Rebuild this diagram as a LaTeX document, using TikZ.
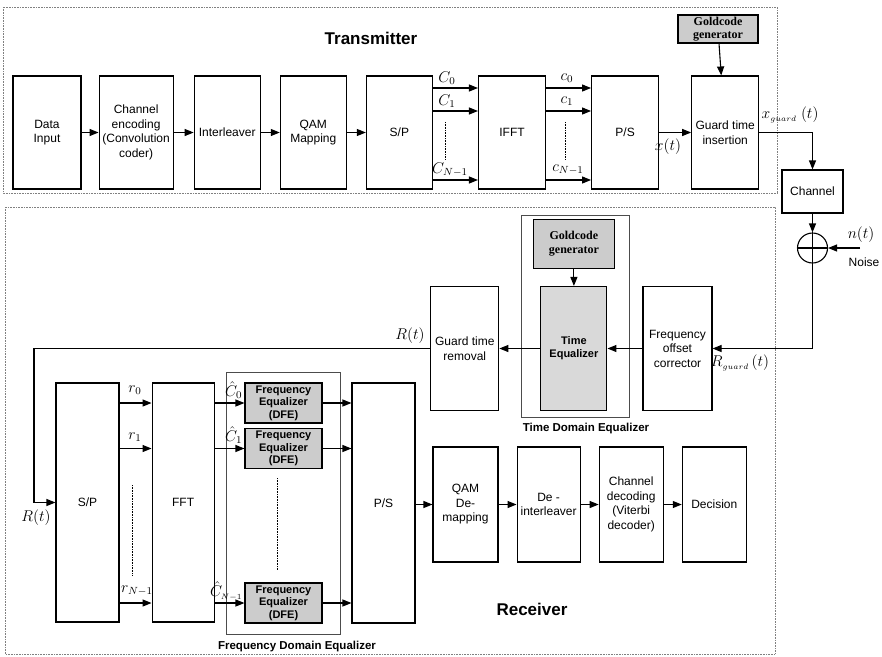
\documentclass[tikz,border=0pt]{standalone}
\usepackage{fontspec}
\setmainfont{Liberation Sans}
\newfontfamily\goldfont{Liberation Serif}
\usepackage{tikz}
\usetikzlibrary{
  arrows.meta,
  positioning,
  calc
}
\DeclareRobustCommand{\sig}[1]{\scalebox{1.3}{$#1$}}

\begin{document}
\begin{tikzpicture}[
    x=1pt, y=-1pt,
    every node/.style={font=\fontsize{12}{14.5}\selectfont},
    box/.style={
      draw,
      line width=1.1pt,
      align=center,
      inner sep=1pt,
      minimum width=66pt,
      minimum height=113pt
    },
    gbox/.style={
      box,
      fill=gray!40
    },
    gold/.style={
      gbox,
      inner sep=0pt,
      font=\goldfont\bfseries\fontsize{12}{13.5}\selectfont
    },
    fe/.style={
      gbox,
      minimum width=77pt,
      minimum height=40pt,
      inner sep=0pt,
      font=\bfseries\fontsize{11}{12.5}\selectfont
    },
    sum/.style={circle, draw, line width=1.1pt, minimum size=30pt, inner sep=0pt},
    outer/.style={draw=gray, densely dotted, line width=0.6pt},
    grp/.style={draw=black!70, line width=0.5pt},
    lbl/.style={inner sep=0.5pt},
    title/.style={font=\bfseries\fontsize{17}{20}\selectfont},
    caption/.style={font=\bfseries\fontsize{11.5}{14}\selectfont},
    ar/.style={-{Triangle[length=9pt,width=7pt]}, line width=1.1pt},
    ln/.style={line width=1.1pt},
    vdots/.style={densely dotted, line width=0.6pt}
  ]

    \useasboundingbox (0,0) rectangle (882,656);

    % Transmitter
    \draw[outer] (3,7) rectangle (777,193);
    \node[title] (txTitle) at (371,38) {Transmitter};

    \node[box, minimum width=68pt] (dataIn) at (47,132.5) {Data\\Input};
    \node[box, minimum width=74pt, right=17pt of dataIn] (chEnc)
      {Channel\\encoding\\(Convolution\\coder)};
    \node[box, right=20pt of chEnc] (intlv) {Interleaver};
    \node[box, right=19pt of intlv] (qamMap) {QAM\\Mapping};
    \node[box, right=19pt of qamMap] (txSP) {S/P};
    \node[box, minimum width=67pt, right=45pt of txSP] (ifft) {IFFT};
    \node[box, minimum width=67pt, right=45pt of ifft] (txPS) {P/S};
    \node[box, minimum width=67pt, right=32pt of txPS] (guardIns) {Guard time\\insertion};
    \node[gold, minimum width=80pt, minimum height=28pt] (txGold) at (718,29)
      {Goldcode\\generator};

    \draw[ar] (dataIn) -- (chEnc);
    \draw[ar] (chEnc) -- (intlv);
    \draw[ar] (intlv) -- (qamMap);
    \draw[ar] (qamMap) -- (txSP);
    \draw[ar] ([yshift=44.5pt]txSP.east) -- ([yshift=44.5pt]ifft.west);
    \draw[ar] ([yshift=21.5pt]txSP.east) -- ([yshift=21.5pt]ifft.west);
    \draw[ar] ([yshift=-47.5pt]txSP.east) -- ([yshift=-47.5pt]ifft.west);
    \draw[ar] ([yshift=44.5pt]ifft.east) -- ([yshift=44.5pt]txPS.west);
    \draw[ar] ([yshift=21.5pt]ifft.east) -- ([yshift=21.5pt]txPS.west);
    \draw[ar] ([yshift=-47.5pt]ifft.east) -- ([yshift=-47.5pt]txPS.west);
    \draw[ar] (txPS) -- (guardIns);
    \draw[ar] (txGold) -- (guardIns);

    \node[lbl] (lC0) at (447,78) {\sig{C_0}};
    \node[lbl] (lC1) at (447,101) {\sig{C_1}};
    \node[lbl] (lCN) at (450,170) {\sig{C_{N-1}}};
    \node[lbl] (lc0) at (567,78) {\sig{c_0}};
    \node[lbl] (lc1) at (567,101) {\sig{c_1}};
    \node[lbl] (lcN) at (568,170) {\sig{c_{N-1}}};
    \node[lbl] (lxt) at (668,147) {\sig{x(t)}};
    \draw[vdots] (445,122) -- (445,160);
    \draw[vdots] (565,122) -- (565,160);

    % Channel and noise
    \node[box, minimum width=61pt, minimum height=43pt] (channel) at (812.5,191.5) {Channel};
    \node[sum] (adder) at (812.5,248) {};
    \draw[ln] (adder.north) -- (adder.south) (adder.west) -- (adder.east);
    \coordinate (noiseIn) at (860,248);

    \draw[ar] (guardIns.east) -| (channel.north);
    \draw[ar] (channel) -- (adder);
    \draw[ar] (noiseIn) -- (adder);
    \node[lbl] (lxg) at (790,115) {\sig{x_{\scriptscriptstyle guard}\;(t)}};
    \node[lbl] (lnt) at (861,235) {\sig{n(t)}};
    \node (lnoise) at (864,262) {Noise};

    % Receiver
    \draw[outer] (5,207) rectangle (775,654);
    \node[title] (rxTitle) at (532,609) {Receiver};

    \node[box, minimum width=69pt, minimum height=124pt] (freqOff) at (677.5,348.5)
      {Frequency\\offset\\corrector};
    \node[gbox, fill=gray!30, minimum height=124pt, left=35pt of freqOff,
      font=\bfseries\fontsize{11}{13}\selectfont] (timeEq) {Time\\Equalizer};
    \node[box, minimum width=68pt, minimum height=124pt, left=41pt of timeEq] (guardRem)
      {Guard time\\removal};
    \node[gold, minimum width=81pt, minimum height=49pt, above=17pt of timeEq] (rxGold)
      {Goldcode\\generator};
    \draw[grp] (521,215) rectangle (629,417);
    \node[caption] (tdeLbl) at (586,429) {Time Domain Equalizer};

    \draw[ar] (adder.south) |- (freqOff.east);
    \node[lbl] (lRg) at (740,363) {\sig{R_{\scriptscriptstyle guard}\,(t)}};
    \draw[ar] (freqOff) -- (timeEq);
    \draw[ar] (timeEq) -- (guardRem);
    \draw[ar] (rxGold) -- (timeEq);

    % S/P, FFT, frequency domain equalizer
    \node[box, minimum width=63pt, minimum height=239pt] (rxSP) at (87.5,502.5) {S/P};
    \node[box, minimum width=62pt, minimum height=239pt, right=32pt of rxSP] (fft) {FFT};
    \node[fe] (fe0) at (283.5,403) {Frequency\\Equalizer\\(DFE)};
    \node[fe] (fe1) at (283.5,448.5) {Frequency\\Equalizer\\(DFE)};
    \node[fe] (feN) at (283.5,603) {Frequency\\Equalizer\\(DFE)};
    \node[box, minimum width=63pt, minimum height=240pt] (rxPS) at (383.5,503) {P/S};
    \draw[grp] (226,372) rectangle (340,634);
    \node[caption] (fdeLbl) at (297,647) {Frequency Domain Equalizer};

    \coordinate (rLoop) at (34,348.5);
    \draw[ar] (guardRem.west) -- (rLoop) |- (rxSP.west);
    \node[lbl] (lRt1) at (410,336) {\sig{R(t)}};
    \node[lbl] (lRt2) at (36,518) {\sig{R(t)}};

    \draw[ar] (rxSP.east |- fe0) -- (fft.west |- fe0);
    \draw[ar] (rxSP.east |- fe1) -- (fft.west |- fe1);
    \draw[ar] (rxSP.east |- feN) -- (fft.west |- feN);
    \draw[ar] (fft.east |- fe0) -- (fe0);
    \draw[ar] (fft.east |- fe1) -- (fe1);
    \draw[ar] (fft.east |- feN) -- (feN);
    \draw[ar] (fe0) -- (rxPS.west |- fe0);
    \draw[ar] (fe1) -- (rxPS.west |- fe1);
    \draw[ar] (feN) -- (rxPS.west |- feN);

    \node[lbl] (lr0) at (135,390) {\sig{r_0}};
    \node[lbl] (lr1) at (135,437) {\sig{r_1}};
    \node[lbl] (lrN) at (137,591) {\sig{r_{N-1}}};
    \node[lbl, anchor=east] (lh0) at (243,390) {\sig{\hat{C}_0}};
    \node[lbl, anchor=east] (lh1) at (243,435) {\sig{\hat{C}_1}};
    \node[lbl, anchor=east] (lhN) at (243,591) {\sig{\hat{C}_{\scriptscriptstyle N-1}}};
    \draw[vdots] (132,485) -- (132,575);
    \draw[vdots] (277,478) -- (277,570);

    % Demapping and decoding
    \node[box, minimum width=65pt, minimum height=115pt] (qamDemap) at (465.5,504.5)
      {QAM\\De-\\mapping};
    \node[box, minimum width=63pt, minimum height=115pt, right=18pt of qamDemap] (deintlv)
      {De -\\interleaver};
    \node[box, minimum width=64pt, minimum height=115pt, right=18pt of deintlv] (chDec)
      {Channel\\decoding\\(Viterbi\\decoder)};
    \node[box, minimum width=64pt, minimum height=115pt, right=18pt of chDec] (decision)
      {Decision};

    \draw[ar] (rxPS.east |- qamDemap) -- (qamDemap);
    \draw[ar] (qamDemap) -- (deintlv);
    \draw[ar] (deintlv) -- (chDec);
    \draw[ar] (chDec) -- (decision);

  \end{tikzpicture}
\end{document}
